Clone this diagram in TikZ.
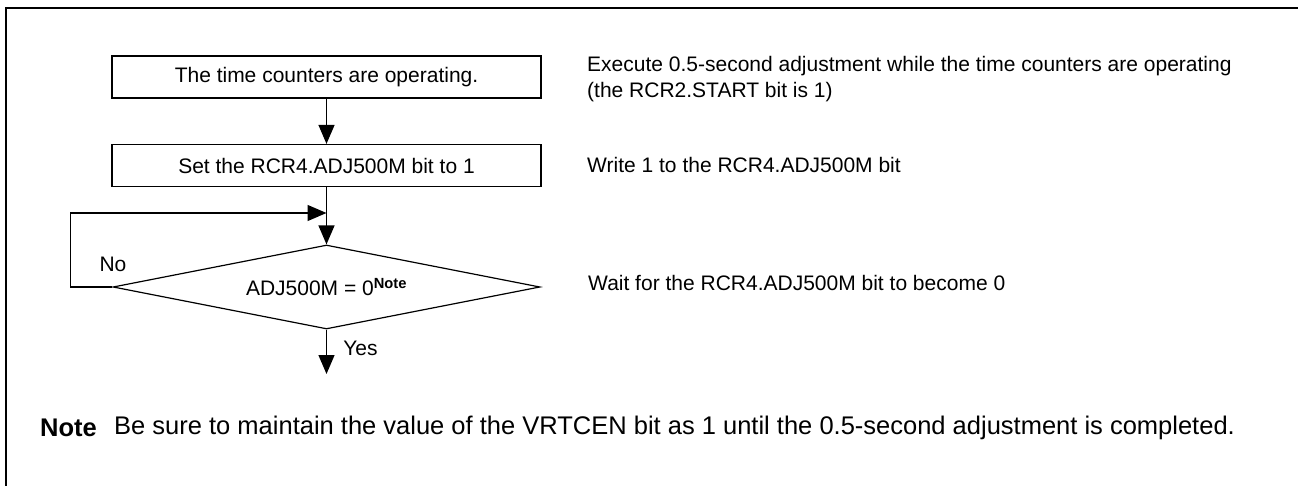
\documentclass[tikz,border=0pt]{standalone}
\usepackage{fontspec}
\setmainfont{Liberation Sans}
\usetikzlibrary{shapes.geometric,arrows.meta}

\begin{document}
\begin{tikzpicture}[x=1pt, y=-1pt,
    every node/.style={font=\fontsize{21}{26}\selectfont},
    stepbox/.style={draw, line width=1.2pt, minimum width=429pt,
      minimum height=42pt, inner sep=0pt},
    decision/.style={draw, diamond, line width=1.2pt, aspect=5.08,
      minimum width=427pt, minimum height=84pt, inner sep=0pt},
    flow/.style={line width=1.2pt, -{Triangle[length=19pt,width=16pt]}},
    remark/.style={anchor=west, inner sep=0pt, align=left},
    footnote/.style={remark, font=\fontsize{25.5}{30}\selectfont}]
  \useasboundingbox (0,0) rectangle (1298,486);

  % Frame: only the top and left edges are shown.
  \draw[line width=2pt] (6,486) -- (6,8) -- (1298,8);

  % The flow chart.
  \node[stepbox] (run) at (326.5,77) {The time counters are operating.};
  \node[stepbox] (set) at (326.5,165.5) {Set the RCR4.ADJ500M bit to 1};
  \node[decision] (test) at (326.5,287)
      {ADJ500M = 0\textsuperscript{\textbf{Note}}};

  \coordinate (join) at (326.5,213);
  \coordinate (done) at (326.5,374);

  \draw[flow] (run) -- (set);
  \draw[flow] (set) -- (test);
  \draw[flow] (test.west) -- ++(-42,0) |- (join);
  \draw[flow] (test) -- (done);

  \node (no) at (113,264) {No};
  \node (yes) at (360.5,348) {Yes};

  % Remarks on the right.
  \node[remark] (runnote) at (587,79)
      {Execute 0.5-second adjustment while the time counters are operating\\
       (the RCR2.START bit is 1)};
  \node[remark] (setnote) at (587,165) {Write 1 to the RCR4.ADJ500M bit};
  \node[remark] (testnote) at (588,283)
      {Wait for the RCR4.ADJ500M bit to become 0};

  % Footnote.
  \node[footnote] (notemark) at (40,428) {\textbf{Note}};
  \node[footnote] (notetext) at (114,428)
      {Be sure to maintain the value of the VRTCEN bit as 1 until the
       0.5-second adjustment is completed.};
\end{tikzpicture}
\end{document}
